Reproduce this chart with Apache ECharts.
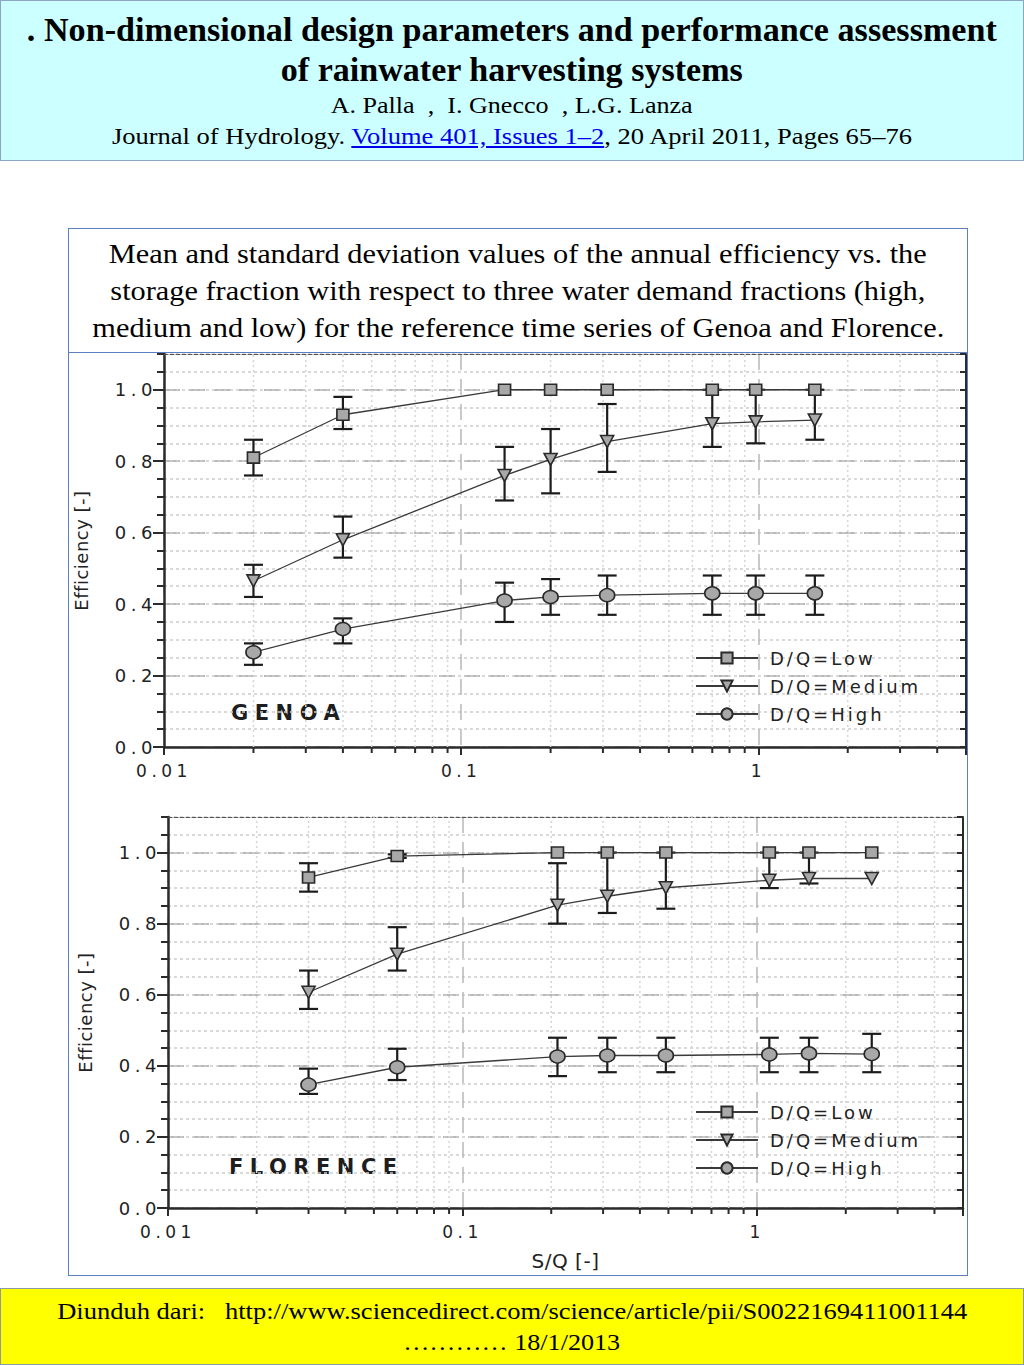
<!DOCTYPE html>
<html><head><meta charset="utf-8">
<script src="https://cdn.jsdelivr.net/npm/echarts@6/dist/echarts.min.js"></script>
<style>
html,body{margin:0;padding:0;background:#fff;}
body{width:1024px;height:1365px;position:relative;overflow:hidden;font-family:'Liberation Serif','Times New Roman',Times,serif;color:#000;}
.box{position:absolute;box-sizing:border-box;}
.ln{position:absolute;text-align:center;white-space:nowrap;height:40px;line-height:40px;}
.ln span.fit{display:inline-block;transform-origin:50% 50%;}
a{color:#0000ee;text-decoration:underline;}
#chart text[style*="zzTick"]{letter-spacing:4.5px;}
#chart text[style*="zzLeg"]{letter-spacing:3px;}
#chart text[style*="zzPanel"]{letter-spacing:6.5px;}
#chart text[style*="zzName"]{letter-spacing:0.5px;}
</style>
</head><body>
<div class="box" style="left:0;top:0;width:1024px;height:161px;border:1px solid #8ea6c6;background:#ccffff;"></div>
<div class="ln" style="left:0;width:1024px;top:10px;font-weight:bold;font-size:33px;"><span class="fit" data-w="970">. Non-dimensional design parameters and performance assessment</span></div>
<div class="ln" style="left:0;width:1024px;top:50px;font-weight:bold;font-size:33px;"><span class="fit" data-w="462">of rainwater harvesting systems</span></div>
<div class="ln" style="left:0;width:1024px;top:86px;font-size:23px;"><span class="fit" data-w="362">A. Palla&nbsp; ,&nbsp; I. Gnecco&nbsp; , L.G. Lanza</span></div>
<div class="ln" style="left:0;width:1024px;top:117px;font-size:23px;"><span class="fit" data-w="800">Journal of Hydrology. <a>Volume 401, Issues 1–2</a>, 20 April 2011, Pages 65–76</span></div>

<div class="box" style="left:68px;top:228px;width:900px;height:125px;border:1px solid #5b7fbf;background:#fff;"></div>
<div class="ln" style="left:68px;width:900px;top:234px;font-size:27px;"><span class="fit" data-w="818">Mean and standard deviation values of the annual efficiency vs. the</span></div>
<div class="ln" style="left:68px;width:900px;top:271px;font-size:27px;"><span class="fit" data-w="815">storage fraction with respect to three water demand fractions (high,</span></div>
<div class="ln" style="left:68px;width:900px;top:308px;font-size:27px;"><span class="fit" data-w="852">medium and low) for the reference time series of Genoa and Florence.</span></div>

<div class="box" style="left:68px;top:352px;width:900px;height:924px;border:1px solid #5b7fbf;background:#fff;">
  <div id="chart" style="position:absolute;left:0;top:0;width:898px;height:922px;"></div>
</div>

<div class="box" style="left:0;top:1288px;width:1024px;height:77px;border:1px solid #8a9aa6;background:#ffff00;"></div>
<div class="ln" style="left:0;width:1024px;top:1291px;font-size:24px;"><span class="fit" data-w="910">Diunduh dari:&nbsp;&nbsp; http://www.sciencedirect.com/science/article/pii/S0022169411001144</span></div>
<div class="ln" style="left:0;width:1024px;top:1322px;font-size:24px;"><span class="fit" data-w="217">………… 18/1/2013</span></div>

<script>
// ---------- data ----------
const legendNames = ['D/Q=Low', 'D/Q=Medium', 'D/Q=High'];
const yTickValues = [0, 0.2, 0.4, 0.6, 0.8, 1.0];
const xMinorValues = [0.02, 0.03, 0.04, 0.05, 0.06, 0.07, 0.08, 0.09, 0.2, 0.3, 0.4, 0.5, 0.6, 0.7, 0.8, 0.9, 2, 3, 4];
const xMin = 0.01, xMax = 5, yMin = 0, yMax = 1.1;

// GENOA
const genoaSQ      = [0.02, 0.04, 0.14, 0.2, 0.31, 0.7, 0.98, 1.55];
const genoaLow     = [0.81, 0.93, 1.0, 1.0, 1.0, 1.0, 1.0, 1.0];
const genoaLowMin  = [0.76, 0.89, 1.0, 1.0, 1.0, 1.0, 1.0, 1.0];
const genoaLowMax  = [0.86, 0.98, 1.0, 1.0, 1.0, 1.0, 1.0, 1.0];
const genoaMed     = [0.465, 0.58, 0.76, 0.805, 0.855, 0.905, 0.91, 0.915];
const genoaMedMin  = [0.42, 0.53, 0.69, 0.71, 0.77, 0.84, 0.85, 0.86];
const genoaMedMax  = [0.51, 0.645, 0.84, 0.89, 0.96, 1.0, 1.0, 1.0];
const genoaHigh    = [0.265, 0.33, 0.41, 0.42, 0.425, 0.43, 0.43, 0.43];
const genoaHighMin = [0.23, 0.29, 0.35, 0.37, 0.37, 0.37, 0.37, 0.37];
const genoaHighMax = [0.29, 0.36, 0.46, 0.47, 0.48, 0.48, 0.48, 0.48];

// FLORENCE
const florSQ      = [0.03, 0.06, 0.21, 0.31, 0.49, 1.1, 1.5, 2.45];
const florLow     = [0.93, 0.99, 1.0, 1.0, 1.0, 1.0, 1.0, 1.0];
const florLowMin  = [0.89, 0.985, 1.0, 1.0, 1.0, 1.0, 1.0, 1.0];
const florLowMax  = [0.97, 0.995, 1.0, 1.0, 1.0, 1.0, 1.0, 1.0];
const florMed     = [0.607, 0.714, 0.852, 0.877, 0.901, 0.922, 0.927, 0.927];
const florMedMin  = [0.56, 0.668, 0.80, 0.83, 0.842, 0.90, 0.913, 0.927];
const florMedMax  = [0.668, 0.79, 0.97, 1.0, 1.0, 1.0, 1.0, 0.927];
const florHigh    = [0.347, 0.396, 0.426, 0.429, 0.429, 0.432, 0.435, 0.433];
const florHighMin = [0.321, 0.36, 0.371, 0.382, 0.382, 0.382, 0.382, 0.382];
const florHighMax = [0.392, 0.448, 0.479, 0.479, 0.479, 0.479, 0.479, 0.49];

// ---------- fit header/caption/footer text widths ----------
document.querySelectorAll('span.fit').forEach(el => {
  const w = el.getBoundingClientRect().width;
  const t = +el.dataset.w;
  if (w > 0) el.style.transform = 'scaleX(' + (t / w) + ')';
});

// ---------- chart ----------
const TICK_FONT = 'DejaVu Sans, zzTick';
const DARK = '#2b2b2b';

function fmtX(v) {
  const e = Math.log10(v);
  if (Math.abs(e - Math.round(e)) < 1e-6) return String(Number(v.toPrecision(1)));
  return '';
}

function xAxes(gi, name) {
  return [{
    type: 'log', logBase: 10, gridIndex: gi, min: xMin, max: xMax, position: 'bottom',
    axisLine: { show: true, onZero: false, lineStyle: { color: DARK, width: 2.5 } },
    axisTick: { show: true, length: 8, lineStyle: { color: DARK, width: 2 } },
    axisLabel: { show: true, margin: 15, color: '#222', fontSize: 17, fontFamily: TICK_FONT, formatter: fmtX },
    splitLine: { show: true, lineStyle: { color: '#b8b8b8', width: 1.5, type: [16, 9] } },
    minorTick: { show: false }, minorSplitLine: { show: false },
    name: name, nameLocation: 'middle', nameGap: 43,
    nameTextStyle: { fontFamily: 'DejaVu Sans, zzName', fontSize: 20, color: '#222' }
  }, {
    type: 'log', logBase: 10, gridIndex: gi, min: xMin, max: xMax, position: 'top',
    axisLine: { show: true, onZero: false, lineStyle: { color: '#555', width: 1, type: [4, 2] } },
    axisTick: { show: false }, axisLabel: { show: false }, splitLine: { show: false }
  }];
}

function yAxes(gi) {
  return [{
    type: 'value', gridIndex: gi, min: yMin, max: yMax, interval: 0.2, position: 'left',
    axisLine: { show: true, onZero: false, lineStyle: { color: DARK, width: 2.5 } },
    axisTick: { show: true, length: 11, customValues: yTickValues, lineStyle: { color: DARK, width: 2 } },
    axisLabel: { show: true, customValues: yTickValues, margin: 7, color: '#222', fontSize: 18, fontFamily: TICK_FONT,
                 formatter: v => v.toFixed(1) },
    splitLine: { show: true, lineStyle: { color: '#b8b8b8', width: 1.8, type: [16, 9] } },
    name: 'Efficiency [-]', nameLocation: 'middle', nameGap: 74, nameRotate: 90,
    nameTextStyle: { fontFamily: 'DejaVu Sans, zzName', fontSize: 18, color: '#222' }
  }, {
    type: 'value', gridIndex: gi, min: yMin, max: yMax, interval: 0.05, position: 'left',
    axisLine: { show: false }, axisTick: { show: true, length: 7, lineStyle: { color: DARK, width: 2 } },
    axisLabel: { show: false },
    splitLine: { show: true, lineStyle: { color: '#cdcdcd', width: 1.5, type: [3, 3] } }
  }, {
    type: 'value', gridIndex: gi, min: yMin, max: yMax, interval: 0.05, position: 'right',
    axisLine: { show: true, onZero: false, lineStyle: { color: DARK, width: 2 } },
    axisTick: { show: true, inside: true, length: 6, lineStyle: { color: DARK, width: 2 } },
    axisLabel: { show: false }, splitLine: { show: false }
  }];
}

function panelSeries(gi, sq, sets) {
  const xi = gi * 2, yi = gi * 3;
  const out = [];
  // minor vertical grid + minor x ticks
  out.push({
    type: 'custom', xAxisIndex: xi, yAxisIndex: yi, silent: true, z: 1, clip: false,
    data: xMinorValues.map(v => [v, yMin]),
    encode: { x: 0, y: 1 },
    renderItem: (params, api) => {
      const x = api.value(0);
      const p0 = api.coord([x, yMin]);
      const p1 = api.coord([x, yMax]);
      return { type: 'group', children: [
        { type: 'line', shape: { x1: p0[0], y1: p0[1], x2: p1[0], y2: p1[1] },
          style: { stroke: '#d6d6d6', lineWidth: 1.5, lineDash: [2, 3] } },
        { type: 'line', shape: { x1: p0[0], y1: p0[1], x2: p0[0], y2: p0[1] + 6 },
          style: { stroke: DARK, lineWidth: 2 } }
      ] };
    }
  });
  // error bars
  const err = [];
  sets.forEach(s => sq.forEach((x, i) => { if (s.max[i] - s.min[i] > 1e-9) err.push([x, s.min[i], s.max[i]]); }));
  out.push({
    type: 'custom', xAxisIndex: xi, yAxisIndex: yi, silent: true, z: 2, clip: false,
    data: err, encode: { x: 0, y: [1, 2] },
    renderItem: (params, api) => {
      const x = api.value(0);
      const a = api.coord([x, api.value(1)]);
      const b = api.coord([x, api.value(2)]);
      const w = 9.5;
      const st = { stroke: '#1c1c1c', lineWidth: 2.2 };
      return { type: 'group', children: [
        { type: 'line', shape: { x1: a[0], y1: a[1], x2: b[0], y2: b[1] }, style: st },
        { type: 'line', shape: { x1: a[0] - w, y1: a[1], x2: a[0] + w, y2: a[1] }, style: st },
        { type: 'line', shape: { x1: b[0] - w, y1: b[1], x2: b[0] + w, y2: b[1] }, style: st }
      ] };
    }
  });
  // mean lines
  sets.forEach(s => {
    out.push({
      type: 'line', name: s.name, xAxisIndex: xi, yAxisIndex: yi, z: 3,
      data: sq.map((x, i) => [x, s.mean[i]]),
      symbol: s.symbol, symbolSize: s.size, symbolRotate: s.rotate || 0, showSymbol: true,
      lineStyle: { color: '#3a3a3a', width: 1.3 },
      itemStyle: { color: '#a8a8a8', borderColor: '#2a2a2a', borderWidth: 1.6 },
      emphasis: { disabled: true }, animation: false
    });
  });
  return out;
}

function sets(low, lowMin, lowMax, med, medMin, medMax, high, highMin, highMax) {
  return [
    { name: legendNames[0], mean: low, min: lowMin, max: lowMax, symbol: 'rect', size: [12, 11] },
    { name: legendNames[1], mean: med, min: medMin, max: medMax, symbol: 'triangle', size: [13, 12], rotate: 180 },
    { name: legendNames[2], mean: high, min: highMin, max: highMax, symbol: 'circle', size: [15, 13] }
  ];
}

function legend(top) {
  return {
    data: legendNames, orient: 'vertical', left: 621, top: top,
    itemWidth: 62, itemHeight: 14, itemGap: 10, selectedMode: false,
    textStyle: { fontFamily: 'DejaVu Sans, zzLeg', fontSize: 18, color: '#222', padding: [0, 0, 0, 7] }
  };
}

const chart = echarts.init(document.getElementById('chart'), null, { renderer: 'svg' });
chart.setOption({
  animation: false,
  backgroundColor: '#ffffff',
  grid: [
    { left: 95, top: 1, width: 802, height: 393, outerBoundsMode: 'none', containLabel: false },
    { left: 99, top: 464, width: 795, height: 391, outerBoundsMode: 'none', containLabel: false }
  ],
  xAxis: [...xAxes(0, ''), ...xAxes(1, 'S/Q [-]')],
  yAxis: [...yAxes(0), ...yAxes(1)],
  legend: [legend(291), legend(745)],
  graphic: [
    { type: 'text', left: 162, top: 349, silent: true,
      style: { text: 'GENOA', font: 'bold 21px DejaVu Sans, zzPanel', fill: '#1e1e1e' } },
    { type: 'text', left: 160, top: 803, silent: true,
      style: { text: 'FLORENCE', font: 'bold 21px DejaVu Sans, zzPanel', fill: '#1e1e1e' } }
  ],
  series: [
    ...panelSeries(0, genoaSQ, sets(genoaLow, genoaLowMin, genoaLowMax, genoaMed, genoaMedMin, genoaMedMax, genoaHigh, genoaHighMin, genoaHighMax)),
    ...panelSeries(1, florSQ, sets(florLow, florLowMin, florLowMax, florMed, florMedMin, florMedMax, florHigh, florHighMin, florHighMax))
  ]
});
</script>
</body></html>
